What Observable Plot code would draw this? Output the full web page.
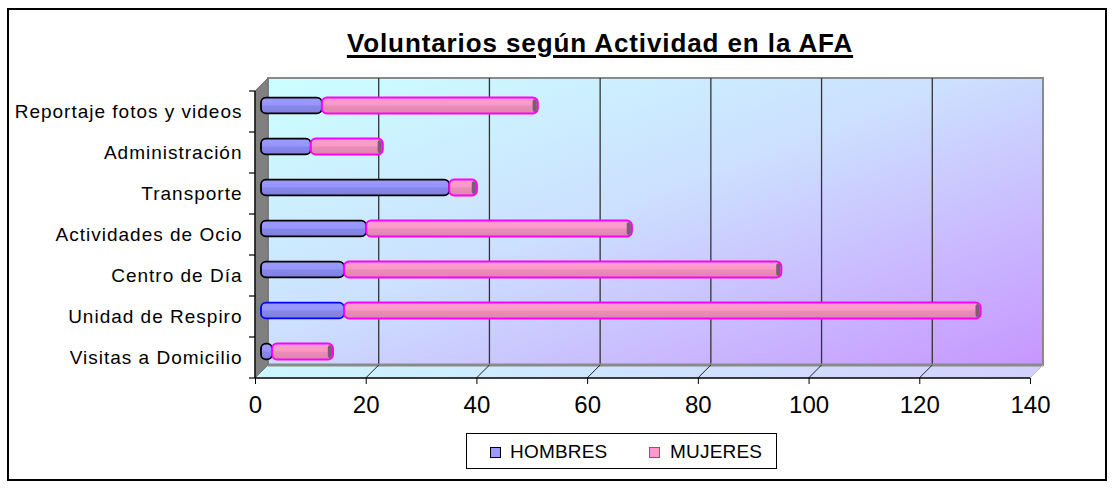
<!DOCTYPE html>
<html>
<head>
<meta charset="utf-8">
<script src="https://cdn.jsdelivr.net/npm/d3@7"></script>
<script src="https://cdn.jsdelivr.net/npm/@observablehq/plot@0.6"></script>
<style>
html, body { margin: 0; padding: 0; background: #fff; overflow: hidden; }
#wrap { position: relative; width: 1113px; height: 488px; font-family: Arial, "Liberation Sans", sans-serif; color: #000; }
#frame { position: absolute; left: 7px; top: 8px; width: 1096px; height: 469px; border: 2px solid #000; }
#chart { position: absolute; left: 0; top: 0; }
#title { position: absolute; left: 250px; width: 700px; top: 29px; text-align: center; font-weight: bold; font-size: 26px; letter-spacing: 0.9px; line-height: 28px; }
#title span { text-decoration: underline; text-decoration-thickness: 3px; text-underline-offset: 3px; }
#legend { position: absolute; left: 466px; top: 433px; width: 309px; height: 34px; border: 1px solid #000; font-size: 19px; }
#legend .sw { position: absolute; top: 13px; width: 9px; height: 9px; }
#legend .lab { position: absolute; top: 1px; height: 34px; line-height: 34px; white-space: nowrap; letter-spacing: 0.2px; }
g[aria-label^="x-axis"] text { font-size: 24px; }
g[aria-label^="y-axis"] text { font-size: 19px; letter-spacing: 1px; }
</style>
</head>
<body>
<div id="wrap">
  <div id="frame"></div>
  <div id="chart"></div>
  <div id="title"><span>Voluntarios según Actividad en la AFA</span></div>
  <div id="legend"></div>
</div>
<script>
// ---- data ----
const categories = [
  "Reportaje fotos y videos",
  "Administración",
  "Transporte",
  "Actividades de Ocio",
  "Centro de Día",
  "Unidad de Respiro",
  "Visitas a Domicilio"
];
const hombres = [11, 9, 34, 19, 15, 15, 2];
const mujeres = [39, 13, 5, 48, 79, 115, 11];
const seriesNames = ["HOMBRES", "MUJERES"];
const xTicks = [0, 20, 40, 60, 80, 100, 120, 140];

const rows = categories.map((c, i) => ({cat: c, h: hombres[i], m: mujeres[i]}));

const DEPTH = 13;     // 3D depth of the walls (px)
const BAR_D = 6;      // bars sit at mid-depth

// background walls, floor, grid — drawn through Plot's scales
function walls(index, scales) {
  const x = scales.x, y = scales.y;
  const x0 = x(xTicks[0]), x1 = x(xTicks[xTicks.length - 1]);
  const yT = y(categories[0]);
  const yB = y(categories[categories.length - 1]) + y.bandwidth();
  const d = DEPTH;
  const g = d3.create("svg:g");
  const defs = g.append("defs");
  const wg = defs.append("linearGradient").attr("id", "wallGrad")
    .attr("x1", 0).attr("y1", 0).attr("x2", 1).attr("y2", 1);
  wg.append("stop").attr("offset", "0%").attr("stop-color", "#ccffff");
  wg.append("stop").attr("offset", "45%").attr("stop-color", "#cce0ff");
  wg.append("stop").attr("offset", "100%").attr("stop-color", "#c796ff");
  const fg = defs.append("linearGradient").attr("id", "floorGrad")
    .attr("x1", 0).attr("y1", 0).attr("x2", 1).attr("y2", 0);
  fg.append("stop").attr("offset", "0%").attr("stop-color", "#ccf6ff");
  fg.append("stop").attr("offset", "100%").attr("stop-color", "#d2cfff");
  const hg = defs.append("linearGradient").attr("id", "gH").attr("x1", 0).attr("y1", 0).attr("x2", 0).attr("y2", 1);
  hg.append("stop").attr("offset", "0%").attr("stop-color", "#9c9cff");
  hg.append("stop").attr("offset", "45%").attr("stop-color", "#9595fb");
  hg.append("stop").attr("offset", "55%").attr("stop-color", "#8787ea");
  hg.append("stop").attr("offset", "100%").attr("stop-color", "#7f7fe0");
  const mg = defs.append("linearGradient").attr("id", "gM").attr("x1", 0).attr("y1", 0).attr("x2", 0).attr("y2", 1);
  mg.append("stop").attr("offset", "0%").attr("stop-color", "#ff9fd0");
  mg.append("stop").attr("offset", "45%").attr("stop-color", "#fb98c8");
  mg.append("stop").attr("offset", "55%").attr("stop-color", "#ea8cb8");
  mg.append("stop").attr("offset", "100%").attr("stop-color", "#e086b0");

  // back wall
  g.append("rect").attr("x", x0 + d).attr("y", yT - d)
    .attr("width", x1 - x0).attr("height", yB - yT)
    .attr("fill", "url(#wallGrad)").attr("stroke", "#8a8a8a").attr("stroke-width", 2);
  // vertical gridlines on back wall
  for (const v of xTicks.slice(1, -1)) {
    g.append("line").attr("x1", x(v) + d).attr("x2", x(v) + d)
      .attr("y1", yT - d).attr("y2", yB - d)
      .attr("stroke", "#333").attr("stroke-width", 1.3);
  }
  // floor
  g.append("polygon")
    .attr("points", [[x0, yB], [x1, yB], [x1 + d, yB - d], [x0 + d, yB - d]].join(" "))
    .attr("fill", "url(#floorGrad)").attr("stroke", "none");
  g.append("line").attr("x1", x0 + d).attr("x2", x1 + d).attr("y1", yB - d).attr("y2", yB - d)
    .attr("stroke", "#8a8a8a").attr("stroke-width", 3);
  g.append("line").attr("x1", x1).attr("x2", x1 + d).attr("y1", yB).attr("y2", yB - d)
    .attr("stroke", "#bbb").attr("stroke-width", 1);
  for (const v of xTicks.slice(1, -1)) {
    g.append("line").attr("x1", x(v)).attr("x2", x(v) + d)
      .attr("y1", yB).attr("y2", yB - d)
      .attr("stroke", "#222").attr("stroke-width", 1);
  }
  // left wall
  g.append("polygon")
    .attr("points", [[x0, yT], [x0 + d, yT - d], [x0 + d, yB - d], [x0, yB]].join(" "))
    .attr("fill", "#808080").attr("stroke", "#707070").attr("stroke-width", 1);
  // front axis lines
  g.append("line").attr("x1", x0).attr("x2", x0).attr("y1", yT).attr("y2", yB)
    .attr("stroke", "#000").attr("stroke-width", 1.3);
  g.append("line").attr("x1", x0).attr("x2", x1).attr("y1", yB).attr("y2", yB)
    .attr("stroke", "#000").attr("stroke-width", 1.3);
  // category separator ticks
  for (const c of categories) {
    g.append("line").attr("x1", x0 - 6).attr("x2", x0).attr("y1", y(c)).attr("y2", y(c))
      .attr("stroke", "#000").attr("stroke-width", 1.2);
  }
  g.append("line").attr("x1", x0 - 6).attr("x2", x0).attr("y1", yB).attr("y2", yB)
    .attr("stroke", "#000").attr("stroke-width", 1.2);
  return g.node();
}

const inset = 12.6;
const chart = Plot.plot({
  width: 1113,
  height: 488,
  marginLeft: 255,
  marginRight: 83,
  marginTop: 90,
  marginBottom: 110,
  style: {fontFamily: "Arial, 'Liberation Sans', sans-serif", fontSize: "19px", background: "transparent", color: "#000", overflow: "visible"},
  x: {domain: [0, 140], ticks: xTicks, tickSize: 6, tickPadding: 11, label: null, tickFormat: d => String(d)},
  y: {domain: categories, padding: 0, tickSize: 0, tickPadding: 13, label: null},
  marks: [
    walls,
    Plot.barX(rows, {
      y: "cat", x1: () => 0, x2: "h",
      fill: "url(#gH)",
      stroke: d => d.cat === "Unidad de Respiro" ? "#0000ff" : "#000",
      strokeWidth: 1.8,
      insetTop: inset, insetBottom: inset, rx: 5,
      dx: BAR_D, dy: -BAR_D
    }),
    Plot.barX(rows, {
      y: "cat", x1: "h", x2: d => d.h + d.m,
      fill: "url(#gM)", stroke: "#ff00ff", strokeWidth: 2,
      insetTop: inset, insetBottom: inset, rx: 5,
      dx: BAR_D, dy: -BAR_D
    }),
    Plot.barX(rows, {
      y: "cat", x1: d => d.h + d.m - 0.75, x2: d => d.h + d.m,
      fill: "#7d5b74", stroke: "none",
      insetTop: inset + 1.5, insetBottom: inset + 1.5, rx: 2.5,
      dx: BAR_D - 1, dy: -BAR_D
    })
  ]
});
document.getElementById("chart").appendChild(chart);

// legend
const legendColors = {HOMBRES: {fill: "#9999ff", stroke: "#000"}, MUJERES: {fill: "#ff99cc", stroke: "#ff00ff"}};
const legendPos = [{sw: 23, lab: 43}, {sw: 182, lab: 203}];
const leg = document.getElementById("legend");
seriesNames.forEach((s, i) => {
  const sw = document.createElement("div");
  sw.className = "sw";
  sw.style.left = legendPos[i].sw + "px";
  sw.style.background = legendColors[s].fill;
  sw.style.border = "1.5px solid " + legendColors[s].stroke;
  leg.appendChild(sw);
  const lab = document.createElement("div");
  lab.className = "lab";
  lab.style.left = legendPos[i].lab + "px";
  lab.textContent = s;
  leg.appendChild(lab);
});
</script>
</body>
</html>
